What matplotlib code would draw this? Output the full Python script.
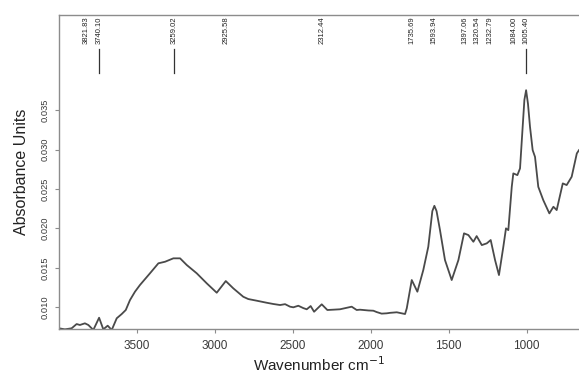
import matplotlib
matplotlib.use("Agg")

import matplotlib.pyplot as plt
import matplotlib.transforms as mtransforms

plt.rcParams["font.family"] = ["Liberation Sans", "DejaVu Sans"]

# spectrum (wavenumber, absorbance)
wavenumber = [
    3998, 3960, 3917, 3885, 3864, 3832, 3810, 3778, 3741, 3714, 3686, 3660,
    3628, 3596, 3570, 3543, 3511, 3479, 3415, 3361, 3318, 3265, 3222, 3179,
    3115, 3051, 2987, 2929, 2881, 2817, 2785, 2731, 2667, 2624, 2581, 2549,
    2517, 2496, 2464, 2432, 2410, 2385, 2363, 2314, 2278, 2240, 2197, 2122,
    2090, 2069, 2015, 1983, 1962, 1930, 1897, 1876, 1833, 1780, 1769, 1737,
    1701, 1663, 1631, 1605, 1592, 1578, 1556, 1524, 1481, 1438, 1402, 1374,
    1342, 1321, 1288, 1256, 1231, 1203, 1178, 1150, 1133, 1118, 1096, 1086,
    1060, 1043, 1026, 1015, 1004, 992, 979, 962, 947, 926, 894, 855, 829,
    808, 769, 744, 712, 679, 665,
]
absorbance = [
    0.00734, 0.00721, 0.00734, 0.00788, 0.00776, 0.00797, 0.00776, 0.00713,
    0.00868, 0.00721, 0.00767, 0.00713, 0.00861, 0.00915, 0.00966, 0.01092,
    0.01198, 0.01283, 0.01431, 0.01558, 0.01578, 0.01621, 0.01621, 0.01536,
    0.01431, 0.01304, 0.01185, 0.01333, 0.01241, 0.01134, 0.01105, 0.01084,
    0.01058, 0.01042, 0.01029, 0.01040, 0.01008, 0.01000, 0.01020, 0.00990,
    0.00975, 0.01016, 0.00944, 0.01038, 0.00966, 0.00970, 0.00975, 0.01008,
    0.00966, 0.00970, 0.00960, 0.00957, 0.00940, 0.00920, 0.00924, 0.00930,
    0.00937, 0.00915, 0.00987, 0.01346, 0.01198, 0.01473, 0.01768, 0.02220,
    0.02287, 0.02220, 0.01979, 0.01599, 0.01346, 0.01599, 0.01938, 0.01916,
    0.01831, 0.01903, 0.01789, 0.01811, 0.01853, 0.01599, 0.01409, 0.01768,
    0.02001, 0.01979, 0.02528, 0.02698, 0.02676, 0.02761, 0.03290, 0.03630,
    0.03753, 0.03580, 0.03288, 0.02993, 0.02908, 0.02528, 0.02359, 0.02191,
    0.02275, 0.02233, 0.02571, 0.02550, 0.02655, 0.02951, 0.02993,
]

peak_labels = [3821.83, 3740.10, 3259.02, 2925.58, 2312.44, 1735.69, 1593.94,
               1397.06, 1320.54, 1232.79, 1084.00, 1005.40]
marked_peaks = [3740.10, 3259.02, 1005.40]

x_ticks = [3500, 3000, 2500, 2000, 1500, 1000]
y_ticks = [0.010, 0.015, 0.020, 0.025, 0.030, 0.035]

frame = "#8c8c8c"
ink = "#3a3a3a"

fig = plt.figure(figsize=(5.79, 3.74), dpi=100)
ax = fig.add_axes([0.1019, 0.1203, 0.8981, 0.8404])

ax.plot(wavenumber, absorbance, color="#4a4a4a", linewidth=1.3)

ax.set_xlim(3998, 665)
ax.set_ylim(0.00725, 0.0471)

ax.set_xticks(x_ticks, labels=[str(t) for t in x_ticks])
ax.set_yticks(y_ticks, labels=[f"{t:.3f}" for t in y_ticks])
ax.tick_params(axis="x", labelsize=8.5, length=3, width=0.8, color=frame,
               labelcolor=ink, pad=5)
ax.tick_params(axis="y", labelsize=6.7, length=3, width=0.8, color=frame,
               labelcolor=ink, pad=4)
for lab in ax.get_yticklabels():
    lab.set_rotation(90)
    lab.set_va("center")

for side in ("left", "bottom", "top"):
    ax.spines[side].set_color(frame)
    ax.spines[side].set_linewidth(1.0)
ax.spines["right"].set_visible(False)

ax.set_xlabel("Wavenumber cm$^{-1}$", fontsize=11, color="#222222", labelpad=2)
ax.set_ylabel("Absorbance Units", fontsize=11.5, color="#222222", labelpad=8)

# peak annotations along the top
trans = mtransforms.blended_transform_factory(ax.transData, ax.transAxes)
for p in peak_labels:
    ax.text(p, 0.994, f"{p:.2f}", transform=trans, rotation=90,
            ha="center", va="top", fontsize=5.5, color="#222222")
for p in marked_peaks:
    ax.plot([p, p], [0.8145, 0.891], transform=trans, color="#333333",
            linewidth=0.9)

fig.savefig("out.png", dpi=100)
plt.close(fig)
